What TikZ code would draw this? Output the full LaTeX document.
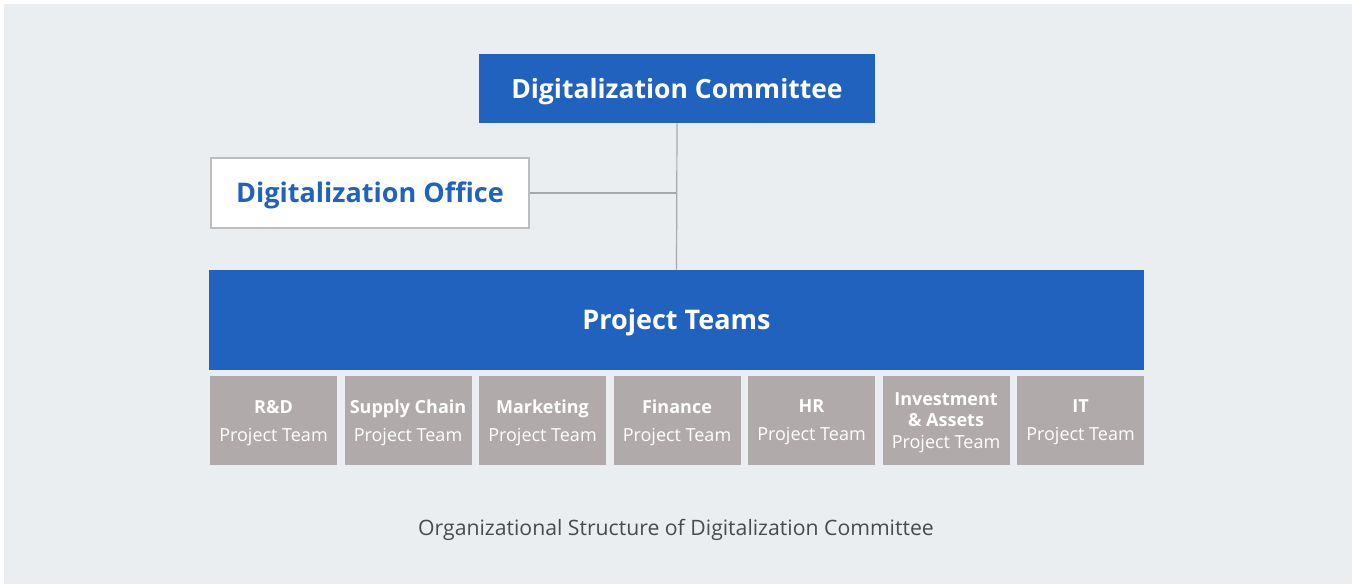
\documentclass[tikz,border=0pt]{standalone}
\usepackage{fontspec}
\setmainfont{Open Sans}
\definecolor{bgcol}{HTML}{EBEEF1}
\definecolor{mainblue}{HTML}{2062BD}
\definecolor{teamgray}{HTML}{B1AAAA}
\definecolor{linegray}{HTML}{A8A8A8}
\definecolor{boxborder}{HTML}{BDBDBD}
\definecolor{capgray}{HTML}{4A4A4A}
\begin{document}
\begin{tikzpicture}[x=0.5pt,y=-0.5pt,
    bluebox/.style={fill=mainblue, text=white, inner sep=0pt,
        text height=9.5pt, text depth=0pt,
        font=\bfseries\fontsize{13.25}{16}\selectfont},
    teambox/.style={fill=teamgray, text=white, inner sep=0pt, align=center,
        minimum width=63.5pt, minimum height=44.5pt, text depth=0pt,
        font=\fontsize{9}{14}\selectfont}]
    % 背景
    \useasboundingbox (0,0) rectangle (1352,584);
    \fill[bgcol] (4,4) rectangle (1352,584);

    % 委员会
    \node[bluebox, minimum width=198pt, minimum height=34.5pt] (committee) at (677,88.5) {Digitalization Committee};

    % 办公室
    \node[draw=boxborder, line width=0.75pt, fill=white, text=mainblue, inner sep=0pt,
        minimum width=159pt, minimum height=35pt, text height=9.6pt, text depth=0pt,
        font=\bfseries\fontsize{13.5}{16}\selectfont] (office) at (370,193) {Digitalization Office};

    % 项目组
    \node[bluebox, minimum width=467.5pt, minimum height=50pt, text height=9.6pt,
        font=\bfseries\fontsize{13.5}{16}\selectfont] (teams) at (676.5,320) {Project Teams};

    % 连接线
    \coordinate (join) at (committee.south |- office.east);
    \draw[linegray, line width=0.6pt] (committee.south) -- (teams.north);
    \draw[linegray, line width=0.6pt] (office.east) -- (join);

    % 各项目组
    \node[teambox] (rd) at (273.5,420.5) {{\bfseries R\&D}\\Project Team};
    \node[teambox] (supply) at (408,420.5) {{\bfseries Supply Chain}\\Project Team};
    \node[teambox] (marketing) at (542.5,420.5) {{\bfseries Marketing}\\Project Team};
    \node[teambox] (finance) at (677,420.5) {{\bfseries Finance}\\Project Team};
    \node[teambox] (hr) at (811.5,420.5) {{\bfseries HR}\\Project Team};
    \node[teambox, font=\fontsize{9}{10.75}\selectfont] (invest) at (946,420.5)
        {{\bfseries Investment}\\{\bfseries \& Assets}\\Project Team};
    \node[teambox] (it) at (1080.5,420.5) {{\bfseries IT}\\Project Team};

    % 标题
    \node[text=capgray, font=\fontsize{10.6}{13}\selectfont] (caption) at (676,530)
        {Organizational Structure of Digitalization Committee};
\end{tikzpicture}
\end{document}
